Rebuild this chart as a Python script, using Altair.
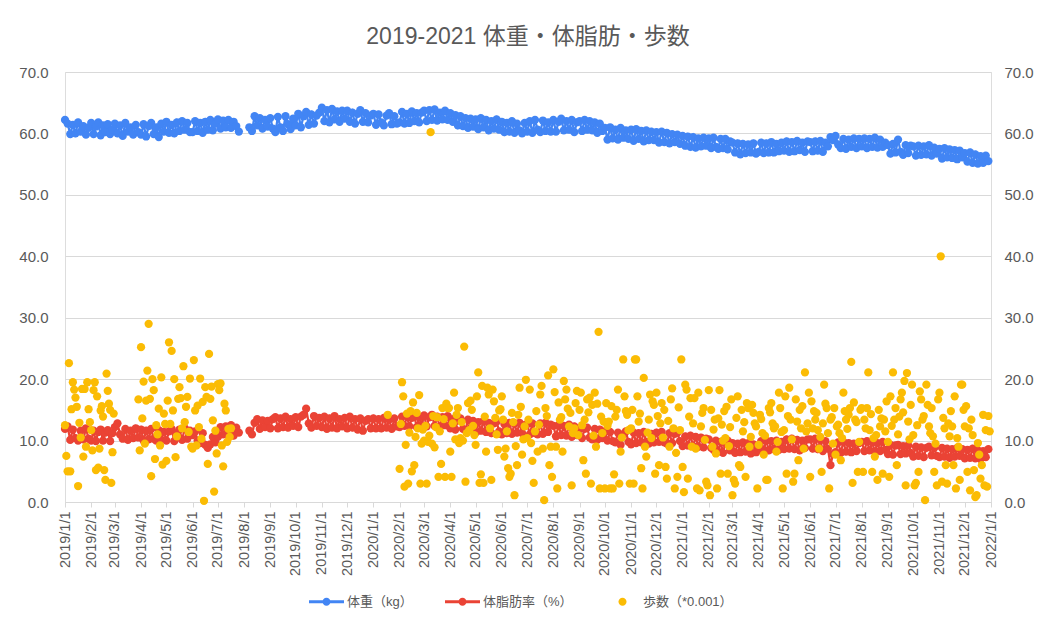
import calendar
import pandas as pd
import altair as alt

TITLE = "2019-2021 体重・体脂肪・歩数"
SERIES = ["体重（kg）", "体脂肪率（%）", "歩数（*0.001）"]
COLORS = ["#4285F4", "#EA4335", "#FBBC04"]
Y_TICKS = [0, 10, 20, 30, 40, 50, 60, 70]
TICK_YEARS = [2019, 2020, 2021]
TICK_MONTHS = list(range(1, 13))

# ---- weight (kg), values spread evenly through each month ----
WEIGHT_2019 = {
    1: [62.2, 61.6, 59.9, 61.4, 60.0, 61.8, 60.3, 61.2, 59.8, 60.9],
    2: [61.7, 59.9, 61.1, 61.8, 59.7, 61.3, 60.2, 61.5, 59.9, 60.6],
    3: [61.6, 60.0, 61.3, 59.6, 61.7, 60.3, 61.0, 59.8, 61.4, 60.2],
    4: [59.8, 61.5, 59.5, 61.2, 61.7, 59.9, 61.0, 59.4, 61.6, 60.3],
    5: [61.9, 60.1, 61.4, 60.0, 61.8, 60.4, 62.0, 60.6, 61.7, 60.2],
    6: [60.2, 62.0, 60.4, 61.7, 60.1, 61.9, 60.6, 62.2, 60.5, 61.6],
    7: [62.3, 60.8, 62.1, 61.0, 62.2, 60.9, 61.9, 61.2, 60.3, None],
    8: [None, None, 61.0, 60.4, 62.8, 61.3, 62.5, 60.8, 62.2, 61.1],
    9: [62.5, 60.8, 60.2, 62.7, 61.0, 60.4, 62.8, 61.5, 60.7, 62.4],
    10: [61.3, 63.2, 61.0, 62.8, 63.5, 61.4, 63.1, 61.6, 62.9, 63.4],
    11: [64.2, 62.0, 63.8, 61.8, 64.0, 62.3, 63.6, 61.9, 63.7, 62.4],
    12: [63.7, 61.9, 63.4, 61.6, 63.2, 63.8, 61.9, 63.3, 61.8, 62.9],
}
WEIGHT_2020 = {
    1: [63.2, 61.4, 63.1, 61.8, 61.3, 62.9, 63.3, 61.5, 62.8, 61.6],
    2: [61.8, 63.5, 61.6, 63.2, 61.7, 63.6, 62.0, 63.3, 61.8, 63.4],
    3: [63.7, 62.0, 63.8, 62.2, 63.9, 62.1, 63.4, 62.3, 63.7, 62.2],
    4: [63.3, 61.9, 63.0, 61.3, 62.8, 61.2, 62.5, 60.9, 62.4, 61.1],
    5: [62.3, 60.7, 62.5, 61.0, 62.2, 60.5, 62.0, 60.8, 62.3, 60.6],
    6: [61.9, 60.2, 61.7, 60.3, 62.0, 60.1, 61.6, 60.5, 60.0, 61.7],
    7: [60.3, 62.0, 60.1, 62.2, 60.6, 60.2, 62.1, 60.4, 61.8, 60.3],
    8: [62.2, 60.3, 61.9, 62.4, 60.5, 62.0, 60.6, 62.2, 60.2, 61.8],
    9: [62.0, 60.4, 62.2, 60.6, 62.0, 60.5, 61.8, 60.1, 61.6, 60.4],
    10: [60.9, 59.0, 61.0, 59.2, 60.6, 59.0, 60.9, 59.3, 60.5, 59.1],
    11: [60.6, 58.8, 60.7, 59.1, 60.4, 58.7, 60.5, 58.9, 60.3, 58.9],
    12: [60.2, 58.5, 60.3, 58.6, 60.1, 58.4, 59.9, 58.6, 59.8, 58.3],
}
WEIGHT_2021 = {
    1: [59.6, 58.0, 59.5, 57.8, 59.4, 57.7, 59.2, 57.9, 59.3, 58.0],
    2: [59.2, 57.6, 59.3, 57.8, 57.5, 59.1, 57.6, 59.1, 57.4, 58.7],
    3: [58.5, 56.9, 58.4, 56.6, 58.3, 56.8, 58.2, 56.9, 58.4, 56.7],
    4: [57.0, 58.5, 56.8, 58.4, 56.9, 58.6, 56.9, 58.3, 57.1, 58.5],
    5: [57.2, 58.7, 57.0, 58.6, 57.1, 58.8, 57.3, 58.5, 57.0, 58.7],
    6: [58.6, 57.1, 58.7, 57.2, 58.8, 57.0, 58.5, 57.9, 59.4, 58.9],
    7: [59.6, 58.2, 57.6, 59.1, 57.5, 59.0, 57.8, 59.2, 57.6, 59.1],
    8: [57.9, 59.2, 57.6, 59.1, 57.8, 59.3, 57.7, 59.0, 57.8, 58.5],
    9: [58.1, 56.7, 58.3, 56.9, 59.0, 57.0, 56.5, 58.1, 56.8, 58.0],
    10: [57.9, 56.4, 58.0, 56.5, 57.9, 56.6, 58.1, 56.4, 57.7, 56.7],
    11: [57.5, 55.9, 57.6, 56.1, 57.4, 56.0, 57.3, 55.8, 57.2, 56.1],
    12: [56.8, 55.4, 56.9, 55.2, 56.6, 55.1, 56.3, 55.2, 56.4, 55.5],
}

# ---- body fat (%) ----
FAT_2019 = {
    1: [11.9, 12.3, 10.1, 11.8, 10.4, 10.0, 11.6, 10.2, 12.0, 10.3],
    2: [10.0, 11.6, 9.9, 11.4, 11.8, 10.0, 11.3, 11.7, 9.9, 11.2],
    3: [12.2, 12.8, 11.0, 10.3, 11.9, 10.1, 11.6, 10.4, 12.0, 10.5],
    4: [11.8, 10.0, 11.6, 10.2, 11.9, 10.3, 10.0, 11.7, 10.1, 11.4],
    5: [10.0, 11.5, 11.9, 9.9, 11.2, 11.8, 10.1, 12.0, 10.3, 11.6],
    6: [10.9, 11.5, 10.0, 9.6, 11.2, 9.3, 8.8, 9.4, 10.6, 9.7],
    7: [10.6, 12.2, 11.0, 12.3, 11.2, 12.5, 10.8, 12.1, 11.3, None],
    8: [None, None, 11.6, 11.0, 12.9, 13.5, 11.9, 13.3, 12.2, 13.2],
    9: [12.0, 13.5, 13.8, 12.0, 13.6, 12.2, 13.9, 12.1, 13.5, 12.4],
    10: [13.8, 12.2, 13.9, 14.2, 15.2, 12.8, 12.1, 14.0, 12.4, 13.7],
    11: [12.2, 13.9, 11.9, 13.6, 12.1, 14.0, 12.0, 13.5, 12.3, 13.7],
    12: [12.0, 13.9, 12.1, 13.5, 11.8, 13.6, 11.6, 13.2, 13.5, 12.0],
}
FAT_2020 = {
    1: [13.6, 12.0, 13.5, 12.0, 13.7, 12.1, 13.4, 11.9, 13.6, 12.3],
    2: [12.2, 13.9, 12.4, 14.0, 12.3, 13.7, 14.0, 12.2, 13.8, 12.5],
    3: [14.1, 12.3, 13.8, 14.2, 12.4, 13.9, 12.2, 13.8, 12.5, 14.0],
    4: [12.0, 13.5, 11.8, 13.3, 13.6, 11.9, 11.7, 13.4, 12.0, 13.2],
    5: [11.3, 13.0, 11.6, 13.2, 11.4, 12.9, 11.2, 12.8, 13.1, 11.5],
    6: [11.0, 12.7, 11.2, 12.9, 11.1, 12.8, 11.3, 12.9, 11.2, 12.5],
    7: [12.7, 11.0, 12.8, 11.2, 11.0, 12.8, 11.1, 12.9, 11.4, 12.6],
    8: [12.4, 10.7, 12.5, 10.9, 12.4, 10.8, 12.6, 10.6, 12.3, 10.9],
    9: [12.0, 10.4, 11.9, 12.1, 10.5, 10.2, 11.9, 10.1, 11.8, 10.4],
    10: [11.5, 10.0, 11.4, 9.9, 9.7, 11.3, 9.3, 11.0, 11.5, 9.8],
    11: [9.4, 11.3, 9.6, 11.2, 9.7, 11.4, 9.8, 9.5, 11.1, 9.7],
    12: [11.3, 9.8, 11.4, 9.7, 9.5, 11.2, 9.6, 11.1, 11.3, 9.9],
}
FAT_2021 = {
    1: [9.1, 10.7, 9.2, 10.8, 9.1, 10.6, 9.0, 10.5, 8.9, 10.3],
    2: [10.2, 8.8, 8.5, 10.0, 8.2, 9.8, 8.0, 9.6, 10.0, 8.4],
    3: [9.6, 8.0, 9.5, 8.1, 9.7, 8.2, 9.6, 7.9, 9.4, 8.1],
    4: [8.4, 9.9, 8.5, 10.0, 8.4, 9.9, 8.6, 10.0, 8.5, 9.8],
    5: [8.6, 10.2, 8.7, 10.3, 8.6, 10.1, 8.4, 10.0, 8.8, 10.2],
    6: [10.2, 8.7, 10.3, 8.6, 10.1, 8.3, 9.9, 8.7, 6.0, 7.8],
    7: [8.1, 9.7, 8.0, 9.8, 8.2, 9.6, 8.1, 9.5, 8.3, 9.6],
    8: [9.8, 8.3, 9.9, 8.4, 9.7, 8.2, 9.6, 8.3, 9.8, 8.5],
    9: [7.8, 9.3, 7.7, 9.2, 9.3, 7.8, 9.1, 7.9, 9.2, 8.0],
    10: [7.4, 9.0, 7.5, 8.9, 7.3, 8.8, 9.0, 7.6, 8.8, 7.5],
    11: [7.3, 8.8, 7.4, 8.7, 7.2, 8.6, 7.4, 8.8, 7.5, 8.6],
    12: [7.1, 8.5, 7.2, 8.7, 7.1, 8.4, 7.0, 8.3, 7.3, 8.6],
}

# ---- steps (x1000), values spread evenly through each month ----
STEPS_2019 = {
    1: [12.5, 7.5, 5.0, 22.6, 5.0, 15.1, 19.5, 18.3, 17.0, 15.5, 2.6, 12.9, 10.5, 18.4, 7.4, 18.4, 9.0, 19.5, 15.1, 13.0],
    2: [11.7, 8.4, 18.2, 19.5, 5.2, 17.2, 5.6, 8.7, 14.9, 15.6, 13.9, 5.2, 3.6, 20.9, 18.1, 16.0, 15.0, 3.1, 8.1, 14.4],
    3: [None] * 18 + [16.7, 8.4],
    4: [25.2, 13.6, 19.6, 9.5, 16.5, 21.4, 29.0, 16.8, 4.2, 20.0, 18.2, 7.0, 12.5, 11.0, 15.2, 9.2, 20.3, 6.1, 14.4, 12.7],
    5: [6.7, 16.5, 26.0, 12.7, 24.6, 14.9, 20.0, 7.3, 10.7, 16.8, 18.7, 16.9, 12.0, 22.1, 13.0, 15.5, 17.1, 11.4, 20.1, 9.0],
    6: [8.7, 23.1, 14.9, 9.2, 15.7, 12.2, 20.1, 10.3, 16.3, 0.2, 18.7, 17.1, 6.2, 24.1, 16.8, 18.8, 13.3, 1.7, 11.6, 7.9],
    7: [19.2, 18.2, 19.3, 9.2, 5.8, 16.0, 14.9, 9.8, 11.9, 10.6, 12.0] + [None] * 9,
}
STEPS_2020 = {
    1: [None] * 11 + [14.2] + [None] * 8,
    2: [5.4, 12.7, 19.5, 17.2, 2.5, 9.3, 14.4, 3.0, 11.3, 14.8, 5.0, 16.2, 6.0, 10.6, 14.5, 12.0, 17.4, 3.0, 9.5, 11.8],
    3: [10.0, 12.4, 3.0, 9.8, 10.8, 60.2, 9.5, 14.0, 8.9, 12.2, 13.8, 4.1, 11.5, 6.2, 15.3, 13.5, 4.1, 16.0, 15.3, 15.3],
    4: [8.2, 4.1, 12.8, 17.8, 10.2, 14.2, 15.3, 9.6, 10.4, 13.0, 10.0, 25.3, 3.3, 11.2, 16.1, 11.7, 16.5, 15.0, 12.4, 10.9],
    5: [9.3, 17.2, 21.1, 3.1, 4.5, 18.9, 3.1, 13.9, 8.2, 18.6, 17.5, 12.0, 3.6, 18.3, 16.4, 13.7, 11.0, 8.5, 14.9, 15.1],
    6: [17.2, 13.4, 7.4, 8.7, 11.5, 5.5, 4.1, 4.6, 14.5, 13.0, 1.1, 9.1, 6.0, 14.2, 18.6, 15.5, 7.7, 10.2, 12.3, 19.9],
    7: [10.4, 13.4, 18.3, 9.6, 6.7, 3.1, 11.5, 14.8, 8.2, 12.6, 17.5, 18.9, 8.7, 0.3, 15.3, 14.0, 20.6, 6.0, 9.0, 4.1],
    8: [21.6, 17.9, 9.0, 2.2, 16.2, 13.4, 13.8, 8.2, 19.7, 16.7, 18.3, 15.2, 12.3, 14.5, 2.7, 11.2, 12.0, 16.1, 18.1, 10.9],
    9: [15.0, 17.8, 12.5, 6.8, 13.4, 4.6, 16.7, 14.6, 17.0, 3.0, 15.8, 10.8, 17.8, 9.0, 16.0, 27.7, 2.2, 13.9, 11.2, 13.1],
    10: [2.2, 16.1, 12.4, 13.1, 2.2, 15.6, 2.2, 4.5, 13.9, 15.0, 18.3, 3.0, 8.2, 10.5, 23.2, 17.2, 14.8, 14.2, 11.7, 3.0],
    11: [12.0, 15.0, 3.0, 23.2, 23.2, 17.2, 13.1, 14.4, 5.5, 2.2, 20.2, 9.0, 7.4, 11.3, 13.4, 17.5, 10.4, 16.4, 15.8, 4.6],
    12: [17.8, 14.0, 6.0, 12.8, 16.1, 10.5, 15.0, 5.7, 3.8, 13.2, 9.0, 16.7, 18.5, 12.0, 2.2, 8.0, 4.1, 15.4, 11.7, 23.2],
}
STEPS_2021 = {
    1: [5.7, 1.6, 19.1, 18.3, 3.8, 13.9, 16.9, 9.0, 12.8, 16.9, 8.7, 2.2, 17.8, 1.9, 12.3, 14.5, 15.3, 10.1, 3.3, 2.7],
    2: [18.2, 1.1, 15.0, 9.0, 11.8, 13.4, 7.9, 2.2, 13.6, 18.2, 4.6, 12.6, 10.0, 14.8, 10.4, 15.5, 4.6, 9.1, 12.2, 16.7],
    3: [1.1, 3.6, 3.0, 13.7, 17.2, 6.0, 5.7, 15.0, 11.5, 13.0, 4.1, 16.1, 15.3, 9.0, 10.6, 15.8, 14.5, 12.8, 12.3, 2.2],
    4: [9.3, 14.2, 13.5, 11.2, 7.7, 10.8, 3.6, 3.6, 15.3, 14.6, 16.1, 12.8, 12.0, 12.3, 8.2, 9.8, 17.8, 15.3, 11.4, 2.2],
    5: [11.7, 17.2, 4.6, 14.0, 18.6, 13.4, 10.2, 3.3, 4.6, 16.7, 13.1, 6.8, 15.0, 12.0, 15.6, 8.7, 21.1, 11.5, 12.8, 17.8],
    6: [4.1, 16.4, 12.0, 14.8, 13.4, 14.5, 11.7, 8.7, 10.6, 4.9, 12.8, 19.1, 16.0, 15.3, 11.2, 2.2, 13.4, 13.8, 9.5, 15.3],
    7: [7.7, 12.3, 12.6, 11.2, 6.8, 10.4, 17.8, 14.8, 13.4, 11.9, 14.2, 15.3, 22.8, 3.1, 16.2, 13.4, 13.0, 4.9, 9.8, 15.0],
    8: [15.3, 4.9, 13.4, 12.0, 15.3, 21.1, 11.7, 14.3, 4.9, 10.4, 7.4, 10.9, 3.6, 15.0, 12.3, 13.6, 4.6, 13.4, 11.5, 16.4],
    9: [9.8, 4.1, 17.2, 12.4, 21.1, 13.4, 15.3, 6.0, 11.0, 13.9, 16.7, 17.8, 14.6, 19.7, 2.7, 21.0, 13.1, 10.2, 15.8, 19.1],
    10: [10.9, 2.7, 3.1, 12.5, 4.9, 18.0, 16.7, 13.4, 14.0, 0.3, 19.1, 15.8, 12.3, 11.2, 15.3, 10.7, 4.9, 9.5, 2.7, 16.7],
    11: [17.8, 40.0, 3.3, 13.7, 12.0, 6.0, 3.0, 12.8, 10.7, 14.8, 12.3, 6.0, 17.2, 2.2, 10.4, 9.0, 3.6, 19.1, 19.1, 15.0],
    12: [12.3, 15.6, 4.9, 12.0, 1.9, 13.4, 10.9, 5.2, 0.8, 1.1, 9.6, 7.7, 3.8, 6.0, 14.2, 2.7, 11.7, 2.5, 14.0, 11.5],
}


def expand(by_year):
    rows = []
    seg = 0
    gap = False
    for year, months in by_year:
        for m, vals in months.items():
            nd = calendar.monthrange(year, m)[1]
            start = pd.Timestamp(year, m, 1)
            n = len(vals)
            for i, v in enumerate(vals):
                if v is None:
                    gap = True
                    continue
                if gap:
                    seg += 1
                    gap = False
                rows.append({"date": start + pd.Timedelta(days=i * nd / n), "value": v, "seg": seg})
    return pd.DataFrame(rows)


wdf = expand([(2019, WEIGHT_2019), (2020, WEIGHT_2020), (2021, WEIGHT_2021)])
fdf = expand([(2019, FAT_2019), (2020, FAT_2020), (2021, FAT_2021)])
sdf = expand([(2019, STEPS_2019), (2020, STEPS_2020), (2021, STEPS_2021)])

leg_df = pd.DataFrame({
    "series": SERIES,
    "date": [wdf["date"].iloc[0], fdf["date"].iloc[0], sdf["date"].iloc[0]],
    "value": [wdf["value"].iloc[0], fdf["value"].iloc[0], sdf["value"].iloc[0]],
})

TEXT = "#595959"
GRID = "#d9d9d9"
LATIN = "Liberation Sans"
MIXED = "Liberation Sans, Noto Sans CJK JP"

month_ticks = [alt.DateTime(year=y, month=m, date=1) for y in TICK_YEARS for m in TICK_MONTHS]
month_ticks.append(alt.DateTime(year=2022, month=1, date=1))

x_enc = alt.X(
    "date:T",
    title=None,
    scale=alt.Scale(domain=[alt.DateTime(year=2019, month=1, date=1), alt.DateTime(year=2022, month=1, date=1)]),
    axis=alt.Axis(
        values=month_ticks, format="%Y/%-m/%-d", labelAngle=270, labelAlign="right",
        labelBaseline="middle", labelFontSize=14.5, labelFont=LATIN, labelColor=TEXT,
        grid=False, domainColor=GRID, tickColor=GRID, tickSize=5, labelPadding=4,
        labelOverlap=False, labelFlush=False,
    ),
)

y_left = alt.Y(
    "value:Q", title=None, scale=alt.Scale(domain=[0, 70], nice=False),
    axis=alt.Axis(values=Y_TICKS, format=".1f", grid=True, gridColor=GRID, domain=False,
                  ticks=False, tickSize=0, labelPadding=17, labelFontSize=15, labelFont=LATIN,
                  labelColor=TEXT),
)
y_right = alt.Y(
    "value:Q", title=None, scale=alt.Scale(domain=[0, 70], nice=False),
    axis=alt.Axis(orient="right", values=Y_TICKS, format=".1f", grid=False, domain=False,
                  ticks=False, tickSize=0, labelPadding=13, labelFontSize=15, labelFont=LATIN,
                  labelColor=TEXT),
)

LINE_DOT = ("M-1,-0.085L1,-0.085L1,0.085L-1,0.085Z "
            "M-0.23,0A0.23,0.23 0 1,1 0.23,0A0.23,0.23 0 1,1 -0.23,0Z")
DOT = "M-0.23,0A0.23,0.23 0 1,1 0.23,0A0.23,0.23 0 1,1 -0.23,0Z"
SHAPES = [LINE_DOT, LINE_DOT, DOT]

legend = alt.Legend(
    title=None, orient="none", legendX=244, legendY=512, direction="horizontal",
    symbolSize=1225, symbolStrokeWidth=0, symbolOpacity=1, labelFontSize=13,
    labelFont=MIXED, labelColor=TEXT, columnPadding=32, labelOffset=3, padding=0,
)

DOT_SIZE = 68
w_line = alt.Chart(wdf).mark_line(color=COLORS[0], strokeWidth=2.25).encode(x=x_enc, y=y_left, detail="seg:N")
w_pts = alt.Chart(wdf).mark_circle(color=COLORS[0], size=DOT_SIZE, opacity=1).encode(x=x_enc, y=y_left)
f_line = alt.Chart(fdf).mark_line(color=COLORS[1], strokeWidth=2.25).encode(x=x_enc, y=y_left, detail="seg:N")
f_pts = alt.Chart(fdf).mark_circle(color=COLORS[1], size=DOT_SIZE, opacity=1).encode(x=x_enc, y=y_left)
leg = alt.Chart(leg_df).mark_point(filled=True, opacity=0).encode(
    x=x_enc, y=y_left,
    color=alt.Color("series:N", scale=alt.Scale(domain=SERIES, range=COLORS), legend=legend),
    shape=alt.Shape("series:N", scale=alt.Scale(domain=SERIES, range=SHAPES), legend=legend),
)
s_pts = alt.Chart(sdf).mark_circle(color=COLORS[2], size=DOT_SIZE, opacity=1).encode(x=x_enc, y=y_right)

left = alt.layer(w_line, w_pts, f_line, f_pts, leg)
chart = alt.layer(left, s_pts).resolve_scale(y="independent").properties(
    width=926, height=430,
    title=alt.TitleParams(TITLE, fontSize=23, font=MIXED, color=TEXT, fontWeight="normal",
                          anchor="middle", offset=16),
    autosize=alt.AutoSizeParams(type="none"),
    padding={"left": 57, "top": 64, "right": 50, "bottom": 110},
).configure_view(stroke=None).configure(background="white")

chart.save("out.html", embed_options={"renderer": "svg", "actions": False})
